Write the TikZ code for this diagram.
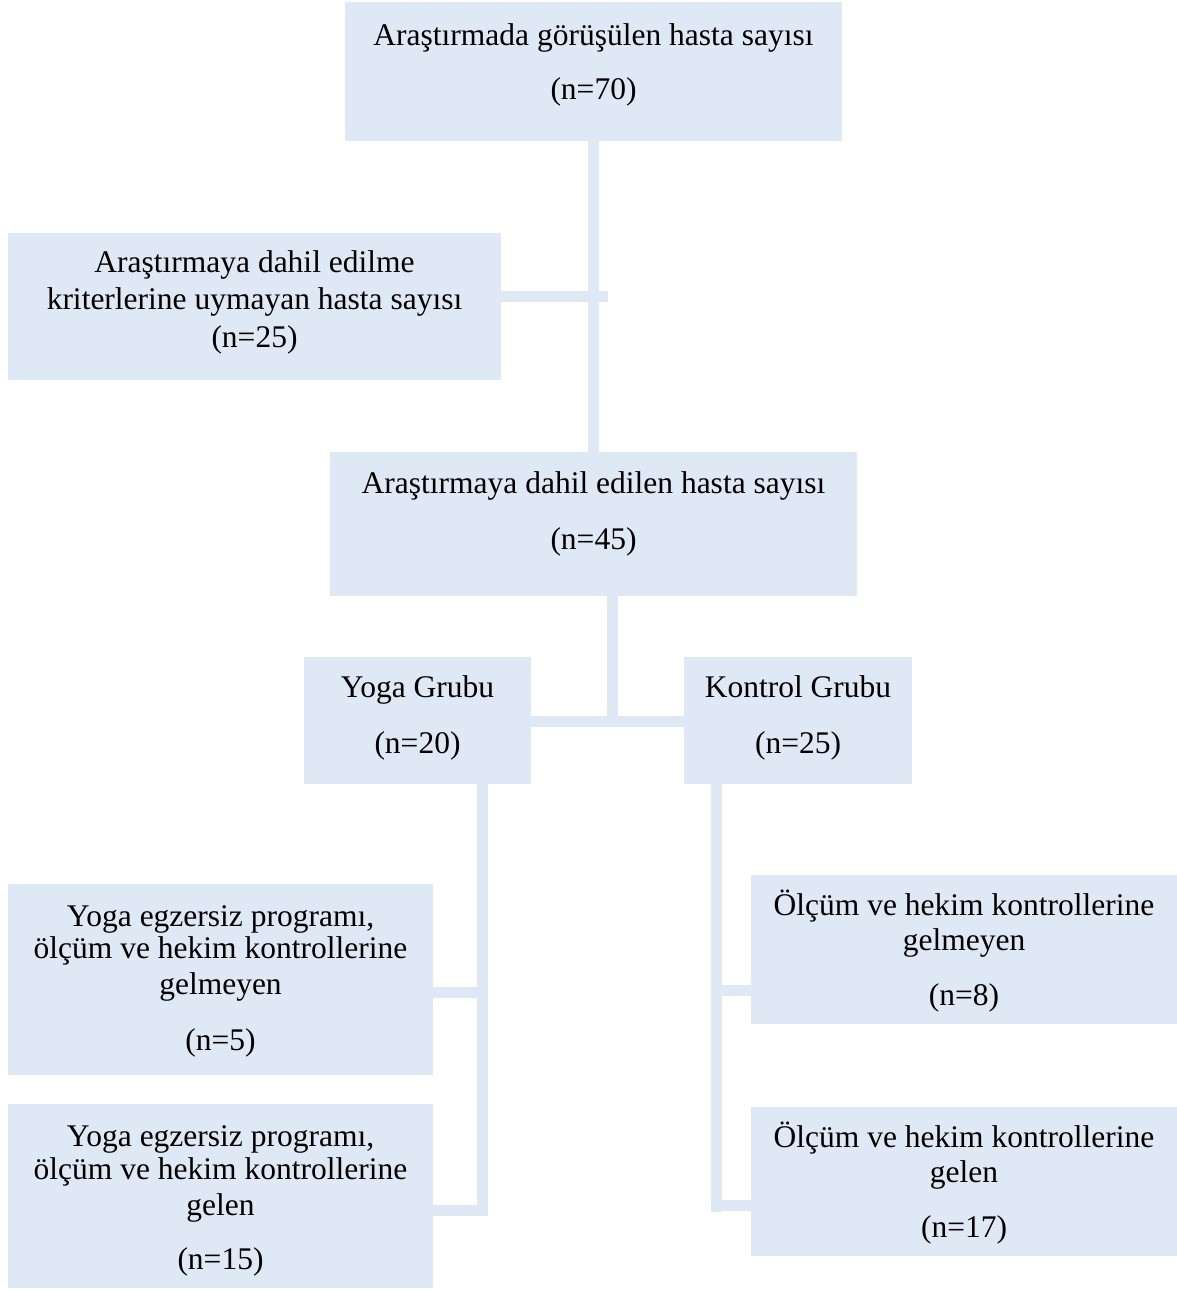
\documentclass[tikz,border=0pt]{standalone}
\usepackage{fontspec}
\setmainfont{Liberation Serif}
\definecolor{boxblue}{HTML}{DEE9F5}
\begin{document}
\begin{tikzpicture}[x=1pt,y=-1pt,
  box/.style={fill=boxblue,draw=none,inner sep=0pt,outer sep=0pt},
  txt/.style={anchor=base,inner sep=0pt,yshift=-9pt,font=\fontsize{31.5}{36}\selectfont},
  conn/.style={draw=boxblue,line width=11pt}]
\useasboundingbox (0,0) rectangle (1177,1291);
% boxes
\node[box,minimum width=497pt,minimum height=139pt] (b1) at (593.5,71.5) {};
\node[box,minimum width=493pt,minimum height=147pt] (b2) at (254.5,306.5) {};
\node[box,minimum width=527pt,minimum height=144pt] (b3) at (593.5,524) {};
\node[box,minimum width=227pt,minimum height=127pt] (b4) at (417.5,720.5) {};
\node[box,minimum width=228pt,minimum height=127pt] (b5) at (798,720.5) {};
\node[box,minimum width=425pt,minimum height=191pt] (b6) at (220.5,979.5) {};
\node[box,minimum width=425pt,minimum height=184pt] (b7) at (220.5,1196) {};
\node[box,minimum width=426pt,minimum height=149pt] (b8) at (964,949.5) {};
\node[box,minimum width=426pt,minimum height=149pt] (b9) at (964,1181.5) {};
% junction coordinates
\coordinate (j1) at (608,296);
\coordinate (j2) at (612,721);
\coordinate (y1) at (487.5,992);
\coordinate (y2) at (487.5,1210);
\coordinate (yv) at (482,1216);
\coordinate (k1) at (716,990);
\coordinate (k2) at (716,1205);
\coordinate (kv) at (716,1212);
% connectors
\draw[conn] (b1.south) -- (b3.north);
\draw[conn] (b2.east |- j1) -- (j1);
\draw[conn] (j2 |- b3.south) -- (j2);
\draw[conn] (b4.east |- j2) -- (b5.west |- j2);
\draw[conn] (yv |- b4.south) -- (yv);
\draw[conn] (b6.east |- y1) -- (y1);
\draw[conn] (b7.east |- y2) -- (y2);
\draw[conn] (kv |- b5.south) -- (kv);
\draw[conn] (k1) -- (b8.west |- k1);
\draw[conn] (k2) -- (b9.west |- k2);
% texts
\node[txt] (t1a) at (593.5,36) {Araştırmada görüşülen hasta sayısı};
\node[txt] (t1b) at (593.5,90) {(n=70)};
\node[txt] (t2a) at (254.5,263) {Araştırmaya dahil edilme};
\node[txt] (t2b) at (254.5,300) {kriterlerine uymayan hasta sayısı};
\node[txt] (t2c) at (254.5,338) {(n=25)};
\node[txt] (t3a) at (593.5,484) {Araştırmaya dahil edilen hasta sayısı};
\node[txt] (t3b) at (593.5,540) {(n=45)};
\node[txt] (t4a) at (417.5,688) {Yoga Grubu};
\node[txt] (t4b) at (417.5,744) {(n=20)};
\node[txt] (t5a) at (798,688) {Kontrol Grubu};
\node[txt] (t5b) at (798,744) {(n=25)};
\node[txt] (t6a) at (220.5,917) {Yoga egzersiz programı,};
\node[txt] (t6b) at (220.5,949) {ölçüm ve hekim kontrollerine};
\node[txt] (t6c) at (220.5,985) {gelmeyen};
\node[txt] (t6d) at (220.5,1041) {(n=5)};
\node[txt] (t7a) at (220.5,1137) {Yoga egzersiz programı,};
\node[txt] (t7b) at (220.5,1170) {ölçüm ve hekim kontrollerine};
\node[txt] (t7c) at (220.5,1206) {gelen};
\node[txt] (t7d) at (220.5,1260) {(n=15)};
\node[txt] (t8a) at (964,906) {Ölçüm ve hekim kontrollerine};
\node[txt] (t8b) at (964,941) {gelmeyen};
\node[txt] (t8c) at (964,996) {(n=8)};
\node[txt] (t9a) at (964,1138) {Ölçüm ve hekim kontrollerine};
\node[txt] (t9b) at (964,1173) {gelen};
\node[txt] (t9c) at (964,1228) {(n=17)};
\end{tikzpicture}
\end{document}
